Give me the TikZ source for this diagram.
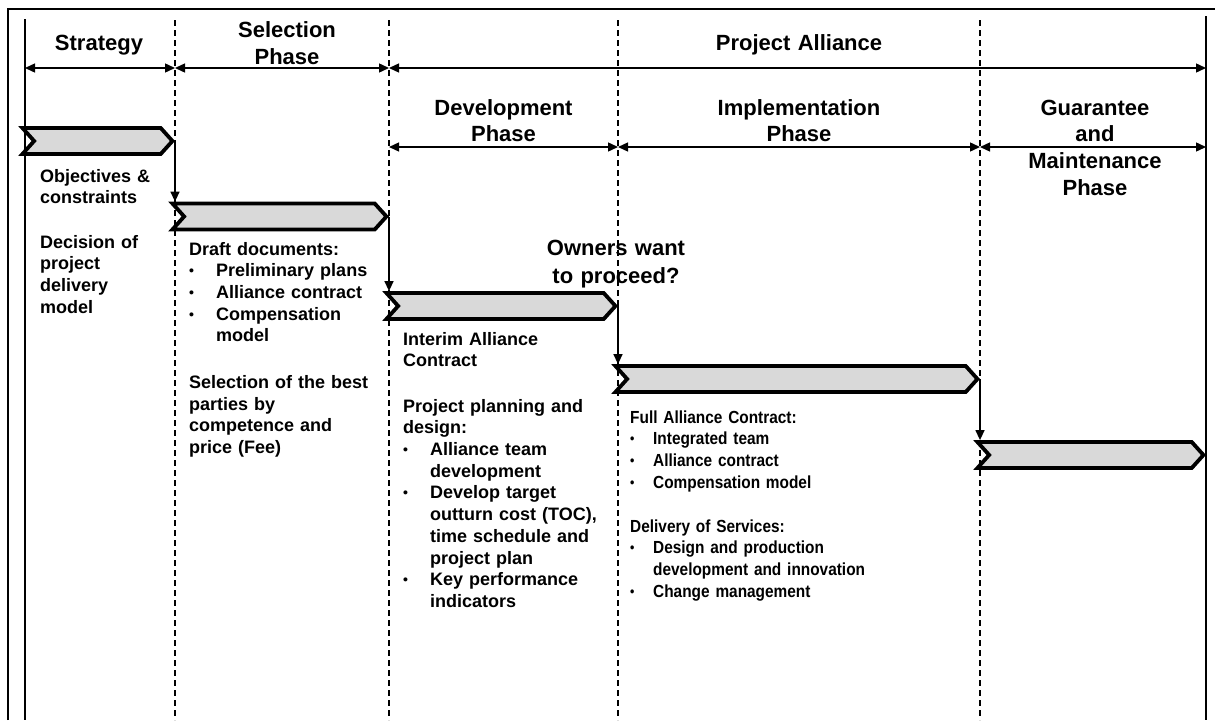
\documentclass[tikz,border=0pt]{standalone}
\usepackage{fontspec}
\setmainfont{Liberation Sans}
\newfontfamily\narrowsans[FakeStretch=0.88, WordSpace=0.6]{Liberation Sans}
\usetikzlibrary{shapes.symbols,arrows.meta}
\definecolor{chevgray}{RGB}{217,217,217}
% bullet with a fixed indent for the item lists
\newcommand\bulA{\makebox[27pt][l]{\fontsize{14}{14}\selectfont\raisebox{1pt}{\textbullet}}}
\newcommand\bulB{\makebox[23pt][l]{\fontsize{14}{14}\selectfont\raisebox{1pt}{\textbullet}}}
\begin{document}
\begin{tikzpicture}[x=1pt,y=-1pt,
  frame/.style={line width=1.8pt},
  divider/.style={line width=1.3pt, dash pattern=on 6pt off 4pt},
  span/.style={line width=1.4pt, {Triangle[length=10pt,width=9pt]}-{Triangle[length=10pt,width=9pt]}},
  link/.style={line width=1.4pt, -{Triangle[length=10pt,width=9pt]}},
  chev/.style={shape=signal, signal from=west, signal to=east, signal pointer angle=96,
    draw=black, line width=3.8pt, line join=miter, fill=chevgray,
    minimum height=26pt, inner sep=0pt, anchor=east},
  head/.style={font=\bfseries\fontsize{22}{26.7}\selectfont, align=center,
    text width=220pt, inner sep=0pt, anchor=base},
  body/.style={font=\bfseries\fontsize{18}{21.7}\selectfont, align=left,
    text width=230pt, inner sep=0pt, anchor=base west},
  bodynarrow/.style={font=\narrowsans\bfseries\fontsize{17.5}{21.7}\selectfont, align=left,
    text width=320pt, inner sep=0pt, anchor=base west},
]
\useasboundingbox (0,0) rectangle (1215,720);

% outer frame and the two solid side rules
\draw[frame] (8,720) -- (8,9) -- (1215,9);
\draw[frame] (25,19) -- (25,720);
\draw[frame] (1206,16) -- (1206,720);

% phase dividers
\foreach \x in {175,389,618,980}
  \draw[divider] (\x,20) -- (\x,720);

% span end points
\coordinate (s0) at (25,68);
\coordinate (s1) at (175,68);
\coordinate (s2) at (389,68);
\coordinate (s5) at (1206,68);
\coordinate (r2) at (389,147);
\coordinate (r3) at (618,147);
\coordinate (r4) at (980,147);
\coordinate (r5) at (1206,147);

\draw[span] (s0) -- (s1);
\draw[span] (s1) -- (s2);
\draw[span] (s2) -- (s5);
\draw[span] (r2) -- (r3);
\draw[span] (r3) -- (r4);
\draw[span] (r4) -- (r5);

% phase headings
\node[head] (h1) at (99,50) {Strategy};
\node[head] (h2) at (287,37.5) {Selection\\Phase};
\node[head] (h3) at (799,50) {Project Alliance};
\node[head] (h4) at (503.5,115) {Development\\Phase};
\node[head] (h5) at (799,115) {Implementation\\Phase};
\node[head] (h6) at (1095,115) {Guarantee\\and\\Maintenance\\Phase};
\node[head, font=\bfseries\fontsize{22}{27.6}\selectfont] (q) at (616,255.7) {Owners want\\to proceed?};

% staircase of chevrons
\node[chev, minimum width=150pt] (c1) at (175,141) {};
\node[chev, minimum width=214pt] (c2) at (389,216.5) {};
\node[chev, minimum width=229pt] (c3) at (618,306) {};
\node[chev, minimum width=362pt] (c4) at (980,379) {};
\node[chev, minimum width=226pt] (c5) at (1206,455) {};

\draw[link] (c1.east) -- (c1.east |- c2.north);
\draw[link] (c2.east) -- (c2.east |- c3.north);
\draw[link] (c3.east) -- (c3.east |- c4.north);
\draw[link] (c4.east) -- (c4.east |- c5.north);

% phase contents
\node[body] (t1) at (40,182) {Objectives \&\\constraints\\[22.6pt]Decision of\\project\\delivery\\model};
\node[body] (t2) at (189,255) {Draft documents:\\\bulA Preliminary plans\\\bulA Alliance contract\\\bulA Compensation\\\hspace*{27pt}model\\[25pt]Selection of the best\\parties by\\competence and\\price (Fee)};
\node[body] (t3) at (403,345) {Interim Alliance\\Contract\\[23.7pt]Project planning and\\design:\\\bulA Alliance team\\\hspace*{27pt}development\\\bulA Develop target\\\hspace*{27pt}outturn cost (TOC),\\\hspace*{27pt}time schedule and\\\hspace*{27pt}project plan\\\bulA Key performance\\\hspace*{27pt}indicators};
\node[bodynarrow] (t4) at (630,423) {Full Alliance Contract:\\\bulB Integrated team\\\bulB Alliance contract\\\bulB Compensation model\\[22.3pt]Delivery of Services:\\\bulB Design and production\\\hspace*{23pt}development and innovation\\\bulB Change management};
\end{tikzpicture}
\end{document}
